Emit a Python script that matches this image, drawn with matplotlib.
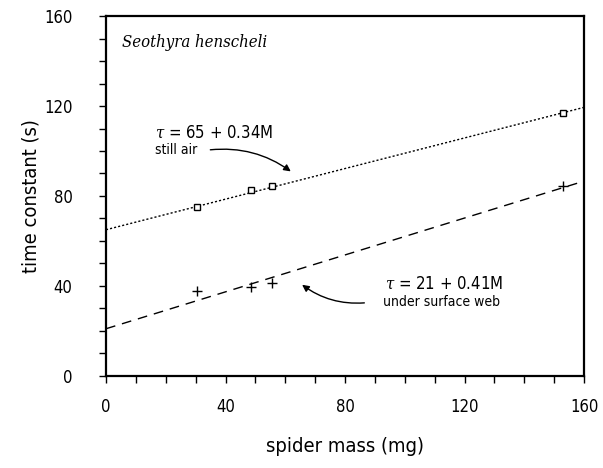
import numpy as np
import matplotlib
matplotlib.use('Agg')
import matplotlib.pyplot as plt

#################################################################
# DATA
#################################################################
# spider mass (mg) and time constant (s)
mass_still = [30.4, 48.7, 55.7, 153.1]
tau_still = [75.2, 82.5, 84.3, 116.8]

mass_web = [30.4, 48.7, 55.7, 153.1]
tau_web = [37.8, 39.7, 41.5, 84.6]

# fitted lines: tau = a + b*M
fit_still = (65, 0.34)
fit_web = (21, 0.41)

x_ticks = [0, 40, 80, 120, 160]
y_ticks = [0, 40, 80, 120, 160]

species = 'Seothyra henscheli'
label_still = r'$\tau$ = 65 + 0.34M'
label_web = r'$\tau$ = 21 + 0.41M'

#################################################################
# PLOT
#################################################################
plt.rcParams['font.family'] = ['DejaVu Sans']
plt.rcParams['font.stretch'] = 'condensed'
plt.rcParams['mathtext.fontset'] = 'dejavuserif'

fig = plt.figure(figsize=(6.03, 4.68), dpi=100)
ax = fig.add_axes([0.1758, 0.1966, 0.7927, 0.7692])

m_line = np.array([0, 160])
ax.plot(m_line, fit_still[0] + fit_still[1] * m_line, color='black',
        lw=1.0, linestyle=(0, (1.5, 1.5)))
ax.plot(m_line, fit_web[0] + fit_web[1] * m_line, color='black',
        lw=1.0, linestyle=(0, (7, 5)))

ax.plot(mass_still, tau_still, linestyle='none', marker='s', markersize=5,
        markerfacecolor='white', markeredgecolor='black', markeredgewidth=1.0)
ax.plot(mass_web, tau_web, linestyle='none', marker='+', markersize=7,
        color='black', markeredgewidth=1.0)

ax.set_xlim(0, 160)
ax.set_ylim(0, 160)
ax.set_xticks(x_ticks)
ax.set_yticks(y_ticks)
ax.set_xticks(np.arange(0, 161, 10), minor=True)
ax.set_yticks(np.arange(0, 161, 10), minor=True)
ax.tick_params(which='both', direction='out', length=5, width=1.0,
               top=False, right=False)
ax.tick_params(axis='x', which='major', pad=11, labelsize=12)
ax.tick_params(axis='y', which='major', pad=19, labelsize=12)
for s in ax.spines.values():
    s.set_linewidth(1.6)

ax.set_xlabel('spider mass (mg)', fontsize=14.5, labelpad=15)
ax.set_ylabel('time constant (s)', fontsize=14.5, labelpad=3)

ax.text(5.4, 148.4, species, fontsize=12, style='italic',
        family='DejaVu Serif', va='center', ha='left')

ax.text(16.4, 108.4, label_still, fontsize=12, va='center', ha='left')
ax.text(16.4, 100.6, 'still air', fontsize=10, va='center', ha='left')
ax.annotate('', xy=(62.6, 90.2), xytext=(34.0, 100.4),
            arrowprops=dict(arrowstyle='-|>', color='black', lw=1.0,
                            mutation_scale=10,
                            connectionstyle='arc3,rad=-0.2'))

ax.text(93.4, 41.3, label_web, fontsize=12, va='center', ha='left')
ax.text(92.7, 32.9, 'under surface web', fontsize=10, va='center', ha='left')
ax.annotate('', xy=(64.9, 41.3), xytext=(87.4, 32.6),
            arrowprops=dict(arrowstyle='-|>', color='black', lw=1.0,
                            mutation_scale=10,
                            connectionstyle='arc3,rad=-0.2'))

fig.savefig('out.png', dpi=100)
plt.close(fig)
